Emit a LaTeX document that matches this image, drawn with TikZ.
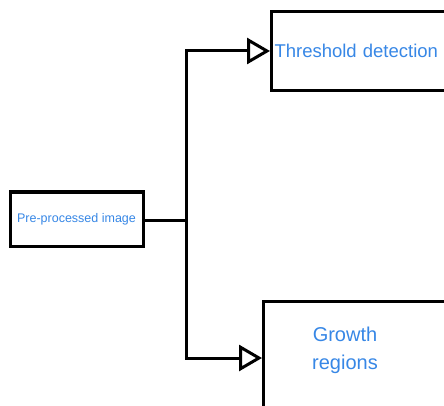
\documentclass[tikz,border=0pt]{standalone}
\usepackage{fontspec}
\setmainfont{Liberation Sans}
\usetikzlibrary{arrows.meta,calc,positioning}
\definecolor{labelColor}{RGB}{55,135,230}
\tikzset{block/.style={draw, line width=3pt, fill=white, inner sep=3pt, text=labelColor}}
\tikzset{textlabel/.style={text=labelColor, align=center, inner sep=0pt}}
\tikzstyle{arrow} = [line width=3pt, -{Triangle[open, length=23pt, width=26pt, line width=3pt]}]

\begin{document}
\begin{tikzpicture}[x=1pt, y=1pt]
	\useasboundingbox (0,0) rectangle (444,-406);
	% Nodes
		\node (preprocessed) [block, minimum width=133pt, minimum height=54pt, font=\fontsize{12.5}{14}\selectfont] at (76.5,-219) {Pre-processed image};

		\node (threshold) [block, anchor=west, minimum width=210pt, minimum height=79pt, text width=204pt, align=left, font=\fontsize{18.5}{22}\selectfont] at (270,-51) {Threshold detection};

		\node (growth) [block, anchor=west, minimum width=210pt, minimum height=114pt] at (262,-358) {};
		\node (growthtext) [textlabel, font=\fontsize{20}{28}\selectfont] at ($(growth.west)+(83,8)$) {Growth\\regions};

		\coordinate (split) at (186,-220);

	% Connectors
		\draw [line width=3pt] (preprocessed.east |- split) -- (split);
		\draw [arrow] (split) |- (threshold.west);
		\draw [arrow] (split) |- (growth.west);

\end{tikzpicture}
\end{document}
